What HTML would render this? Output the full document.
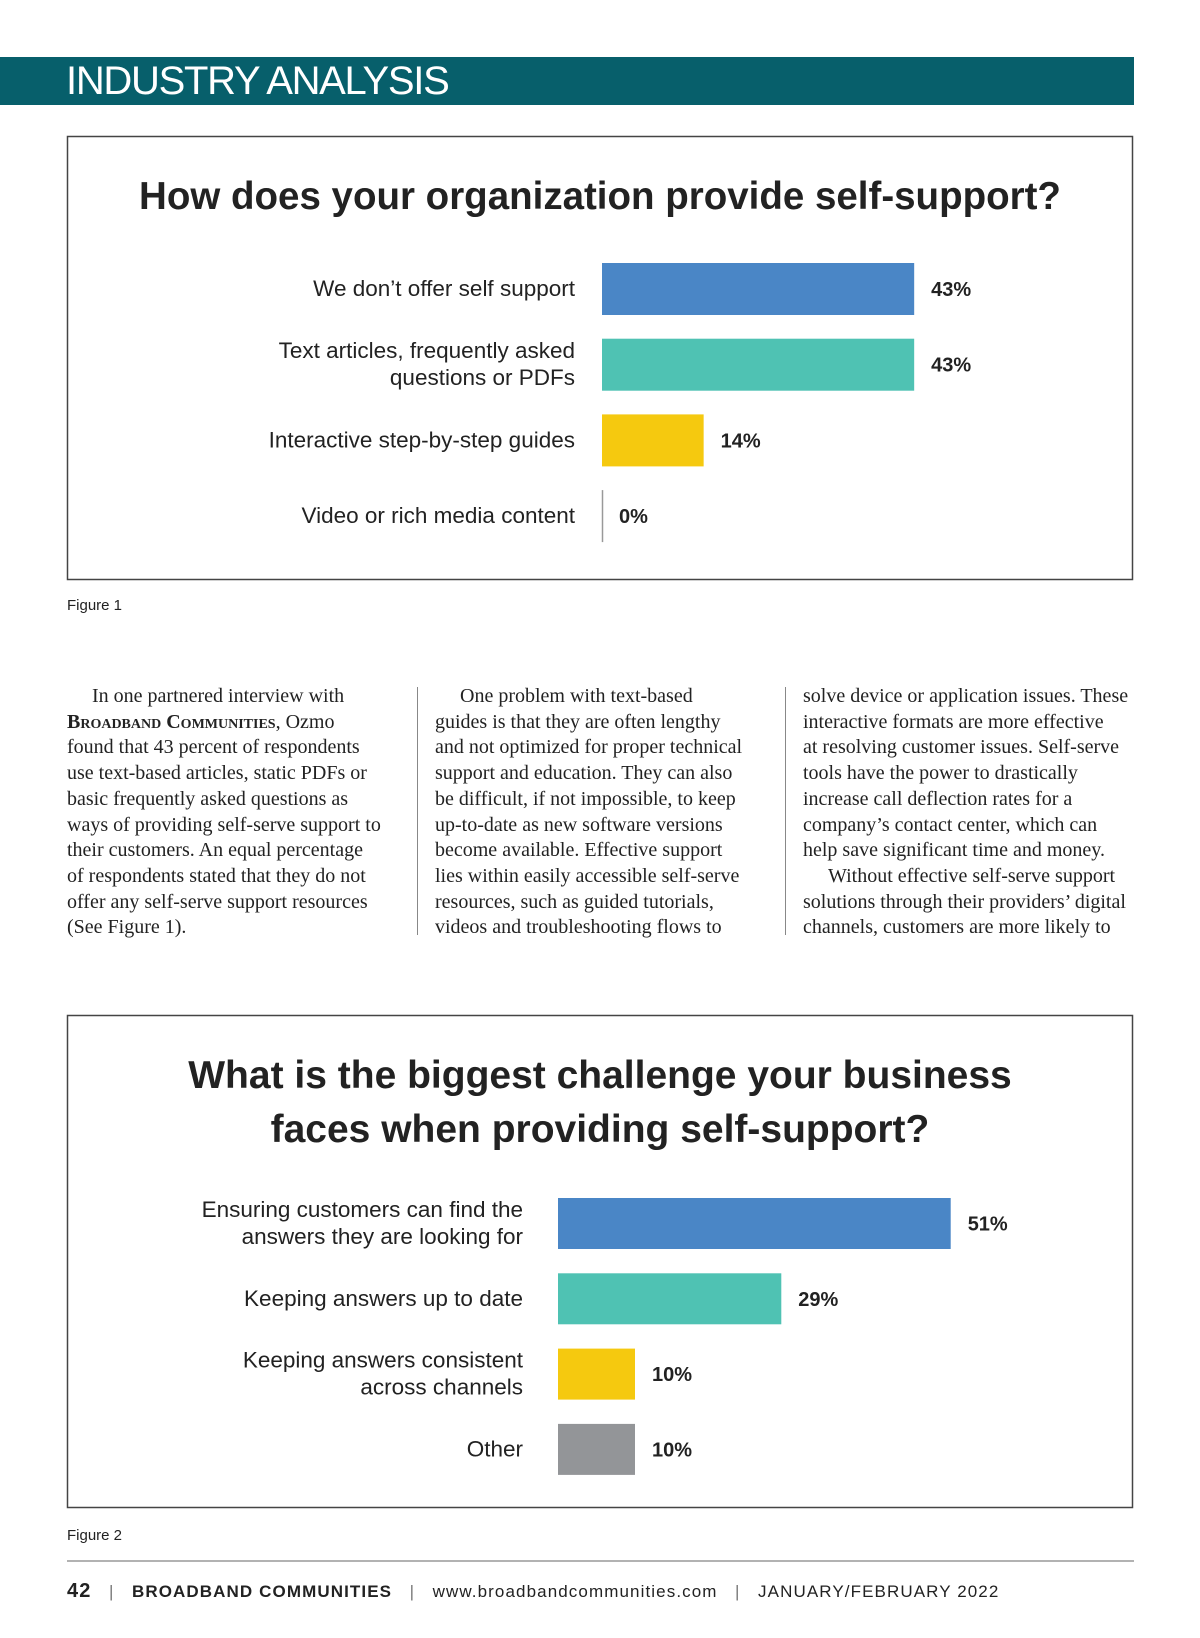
<!DOCTYPE html>
<html><head><meta charset="utf-8"><style>
body{margin:0;width:1200px;height:1638px;background:#fff;position:relative;overflow:hidden;font-family:"Liberation Sans",sans-serif}
.abs{position:absolute}
.col{position:absolute;top:684px;font-family:"Liberation Serif",serif;font-size:20px;line-height:25.7px;color:#222;white-space:nowrap}
.sc{font-variant:small-caps;font-weight:bold}
.fig{position:absolute;left:67px;font-size:15px;color:#222}
</style></head><body>
<div class="abs" style="left:0;top:57px;width:1134px;height:48px;background:#075f6b"></div>
<div class="abs" style="left:66px;top:59px;font-size:40px;color:#fff;letter-spacing:-1.3px">INDUSTRY ANALYSIS</div>

<svg class="abs" style="left:0;top:0" width="1200" height="1638">
<rect x="67.5" y="136.5" width="1065" height="443" fill="#fff" stroke="#444" stroke-width="1.5"/>
<text x="600" y="209" text-anchor="middle" font-size="38.5" font-weight="bold" fill="#222">How does your organization provide self-support?</text>
<g id="c1"></g>
<rect x="67.5" y="1015.5" width="1065" height="492" fill="#fff" stroke="#444" stroke-width="1.5"/>
<text x="600" y="1088" text-anchor="middle" font-size="39" font-weight="bold" fill="#222">What is the biggest challenge your business</text>
<text x="600" y="1142" text-anchor="middle" font-size="39" font-weight="bold" fill="#222">faces when providing self-support?</text>
<g id="c2"></g>
<line x1="67" y1="1561" x2="1134" y2="1561" stroke="#999" stroke-width="1.5"/>
</svg>

<div class="fig" style="top:597px">Figure 1</div>
<div class="fig" style="top:1527px">Figure 2</div>

<div class="col" style="left:67px">&nbsp;&nbsp;&nbsp;&nbsp;&nbsp;In one partnered interview with<br><span class="sc">Broadband Communities</span>, Ozmo<br>found that 43 percent of respondents<br>use text-based articles, static PDFs or<br>basic frequently asked questions as<br>ways of providing self-serve support to<br>their customers. An equal percentage<br>of respondents stated that they do not<br>offer any self-serve support resources<br>(See Figure 1).</div>
<div class="abs" style="left:417px;top:687px;width:1px;height:248px;background:#888"></div>
<div class="col" style="left:435px">&nbsp;&nbsp;&nbsp;&nbsp;&nbsp;One problem with text-based<br>guides is that they are often lengthy<br>and not optimized for proper technical<br>support and education. They can also<br>be difficult, if not impossible, to keep<br>up-to-date as new software versions<br>become available. Effective support<br>lies within easily accessible self-serve<br>resources, such as guided tutorials,<br>videos and troubleshooting flows to</div>
<div class="abs" style="left:785px;top:687px;width:1px;height:248px;background:#888"></div>
<div class="col" style="left:803px">solve device or application issues. These<br>interactive formats are more effective<br>at resolving customer issues. Self-serve<br>tools have the power to drastically<br>increase call deflection rates for a<br>company’s contact center, which can<br>help save significant time and money.<br>&nbsp;&nbsp;&nbsp;&nbsp;&nbsp;Without effective self-serve support<br>solutions through their providers’ digital<br>channels, customers are more likely to</div>

<div class="abs" style="left:67px;top:1580px;font-size:17px;color:#222;letter-spacing:1.1px;white-space:nowrap"><b style="font-size:20px">42</b>&nbsp;&nbsp;&nbsp;<span style="color:#777">|</span>&nbsp;&nbsp;&nbsp;<b>BROADBAND COMMUNITIES</b>&nbsp;&nbsp;&nbsp;<span style="color:#777">|</span>&nbsp;&nbsp;&nbsp;www.broadbandcommunities.com&nbsp;&nbsp;&nbsp;<span style="color:#777">|</span>&nbsp;&nbsp;&nbsp;JANUARY/FEBRUARY 2022</div>

<script>
const cats1 = [["We don’t offer self support"],["Text articles, frequently asked","questions or PDFs"],["Interactive step-by-step guides"],["Video or rich media content"]];
const vals1 = [43,43,14,0];
const cats2 = [["Ensuring customers can find the","answers they are looking for"],["Keeping answers up to date"],["Keeping answers consistent","across channels"],["Other"]];
const vals2 = [51,29,10,10];
const colors = ["#4a86c6","#4fc2b3","#f5c90f","#939598"];
const NS="http://www.w3.org/2000/svg";
function mk(t,a,p){const e=document.createElementNS(NS,t);for(const k in a)e.setAttribute(k,a[k]);p.appendChild(e);return e;}
function chart(g,cats,vals,x0,pxPer,y0,step,h,labelX,pre){
  const xs=v=>x0+v*pxPer;
  vals.forEach((v,i)=>{
    const y=y0+i*step;
    if(v>0){
      const r=mk('rect',{x:x0,y:y,width:xs(v)-x0,height:h,fill:colors[i]},g);
      
      
    } else {
      const l=mk('line',{x1:x0+0.5,y1:y,x2:x0+0.5,y2:y+h,stroke:'#999','stroke-width':1.5},g);
      
      
    }
    const t=mk('text',{x:xs(v)+17,y:y+h/2+7,'font-size':20,'font-weight':'bold',fill:'#222'},g);
    t.textContent=v+'%';
    
    
    const lines=cats[i];
    lines.forEach((ln,j)=>{
      const ly=y+h/2+7+(j-(lines.length-1)/2)*27;
      const c=mk('text',{x:labelX,y:ly,'text-anchor':'end','font-size':22.5,fill:'#222'},g);
      c.textContent=ln;
      
      
    });
  });
}
chart(document.getElementById('c1'),cats1,vals1,602,7.26,263,75.7,52,575,'fig1');
chart(document.getElementById('c2'),cats2,vals2,558,7.7,1198,75.3,51,523,'fig2');
</script>
</body></html>
